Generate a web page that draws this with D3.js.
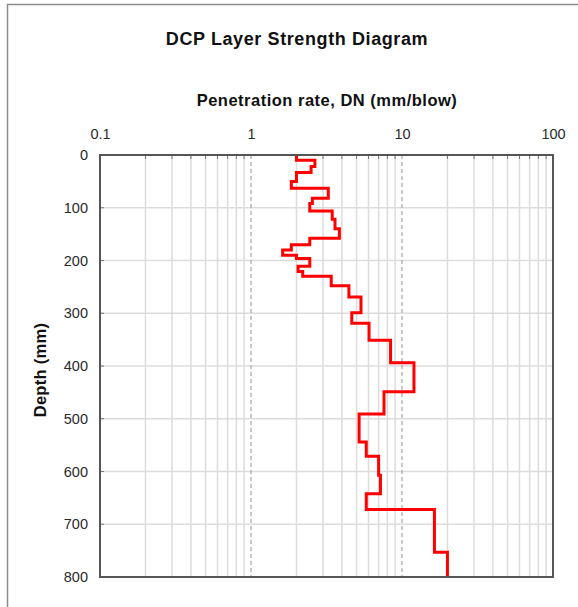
<!DOCTYPE html>
<html>
<head>
<meta charset="utf-8">
<script src="https://cdn.jsdelivr.net/npm/d3@7"></script>
<style>
  html, body { margin: 0; padding: 0; background: #fff; }
  svg { display: block; font-family: "Liberation Sans", Arial, sans-serif; }
</style>
</head>
<body>
<svg id="chart" width="578" height="607"></svg>
<script>
// Layer boundaries (mm) and the penetration rate (mm/blow) of each layer
const layerTop    = [0, 10, 22, 33, 50, 63, 82, 92, 106, 122, 140, 158, 170, 180, 190, 196, 211, 221, 230, 248, 269, 299, 319, 351, 394, 449, 491, 544, 571, 607, 642, 672, 753];
const layerBottom = [10, 22, 33, 50, 63, 82, 92, 106, 122, 140, 158, 170, 180, 190, 196, 211, 221, 230, 248, 269, 299, 319, 351, 394, 449, 491, 544, 571, 607, 642, 672, 753, 800];
const dnValues    = [2.0, 2.65, 2.5, 2.0, 1.85, 3.25, 2.55, 2.45, 3.45, 3.6, 3.85, 2.45, 1.85, 1.62, 2.0, 2.45, 2.05, 2.2, 3.4, 4.45, 5.35, 4.65, 6.05, 8.4, 12.0, 7.6, 5.2, 5.8, 7.0, 7.2, 5.8, 16.4, 20.0];

const xTickValues = [0.1, 1, 10, 100];
const xTickLabels = ["0.1", "1", "10", "100"];
const yTickValues = [0, 100, 200, 300, 400, 500, 600, 700, 800];

const svg = d3.select("#chart");
const plot = { left: 100, top: 155, right: 553, bottom: 577 };

const x = d3.scaleLog().domain([0.1, 100]).range([plot.left, plot.right]);
const y = d3.scaleLinear().domain([0, 800]).range([plot.top, plot.bottom]);

// outer chart border (left and top edges)
svg.append("path")
  .attr("d", "M7.5,607 V4.5 H578")
  .attr("fill", "none")
  .attr("stroke", "#8c8c8c")
  .attr("stroke-width", 1.5);

// titles
svg.append("text")
  .attr("x", 297).attr("y", 45)
  .attr("text-anchor", "middle")
  .attr("font-size", 18).attr("font-weight", "bold").attr("fill", "#111")
  .attr("letter-spacing", 0.6)
  .text("DCP Layer Strength Diagram");

svg.append("text")
  .attr("x", 327).attr("y", 106)
  .attr("text-anchor", "middle")
  .attr("font-size", 16.5).attr("font-weight", "bold").attr("fill", "#111")
  .attr("letter-spacing", 0.5)
  .text("Penetration rate, DN (mm/blow)");

svg.append("text")
  .attr("transform", "translate(46,370) rotate(-90)")
  .attr("text-anchor", "middle")
  .attr("font-size", 16.5).attr("font-weight", "bold").attr("fill", "#111")
  .attr("letter-spacing", 0.3)
  .text("Depth (mm)");

// minor vertical gridlines (2..9 in each decade)
const minorX = [];
[0.1, 1, 10].forEach(d => { for (let k = 2; k <= 9; k++) minorX.push(d * k); });

const grid = svg.append("g");
grid.selectAll("line.minor")
  .data(minorX).join("line")
  .attr("class", "minor")
  .attr("x1", d => x(d)).attr("x2", d => x(d))
  .attr("y1", plot.top).attr("y2", plot.bottom)
  .attr("stroke", "#dcdcdc").attr("stroke-width", 1.5);

// horizontal gridlines
grid.selectAll("line.h")
  .data(yTickValues.slice(1, -1)).join("line")
  .attr("class", "h")
  .attr("x1", plot.left).attr("x2", plot.right)
  .attr("y1", d => y(d)).attr("y2", d => y(d))
  .attr("stroke", "#dcdcdc").attr("stroke-width", 1.5);

// major decade lines (dashed)
grid.selectAll("line.major")
  .data([1, 10]).join("line")
  .attr("class", "major")
  .attr("x1", d => x(d)).attr("x2", d => x(d))
  .attr("y1", plot.top).attr("y2", plot.bottom)
  .attr("stroke", "#a6a6a6").attr("stroke-width", 1.2)
  .attr("stroke-dasharray", "4,3");

// top axis (log scale)
const xAxis = d3.axisTop(x)
  .tickValues(xTickValues)
  .tickFormat((d, i) => xTickLabels[i])
  .tickSize(0).tickPadding(16);
const gx = svg.append("g").attr("transform", `translate(0,${plot.top})`).call(xAxis);
gx.select(".domain").remove();
gx.selectAll("text").attr("font-size", 14.5).attr("fill", "#2a2a2a")
  .attr("font-family", "Liberation Sans, Arial, sans-serif");

// small inward minor ticks along the top edge
svg.append("g").selectAll("line")
  .data(minorX).join("line")
  .attr("x1", d => x(d)).attr("x2", d => x(d))
  .attr("y1", plot.top).attr("y2", plot.top + 4)
  .attr("stroke", "#777").attr("stroke-width", 1);

// left axis
const yAxis = d3.axisLeft(y).tickValues(yTickValues).tickSize(0).tickPadding(12);
const gy = svg.append("g").attr("transform", `translate(${plot.left},0)`).call(yAxis);
gy.select(".domain").remove();
gy.selectAll("text").attr("font-size", 14.5).attr("fill", "#2a2a2a")
  .attr("font-family", "Liberation Sans, Arial, sans-serif");

svg.append("g").selectAll("line")
  .data(yTickValues.slice(1, -1)).join("line")
  .attr("x1", plot.left).attr("x2", plot.left + 4)
  .attr("y1", d => y(d)).attr("y2", d => y(d))
  .attr("stroke", "#777").attr("stroke-width", 1);

// step profile of DN vs depth
const pts = [];
dnValues.forEach((v, i) => {
  pts.push([v, layerTop[i]]);
  pts.push([v, layerBottom[i]]);
});
const line = d3.line().x(d => x(d[0])).y(d => y(d[1]));
svg.append("path")
  .datum(pts)
  .attr("d", line)
  .attr("fill", "none")
  .attr("stroke", "#ff0000")
  .attr("stroke-width", 3)
  .attr("stroke-linejoin", "miter");

// plot frame
svg.append("rect")
  .attr("x", plot.left).attr("y", plot.top)
  .attr("width", plot.right - plot.left).attr("height", plot.bottom - plot.top)
  .attr("fill", "none").attr("stroke", "#555").attr("stroke-width", 2);
</script>
</body>
</html>
